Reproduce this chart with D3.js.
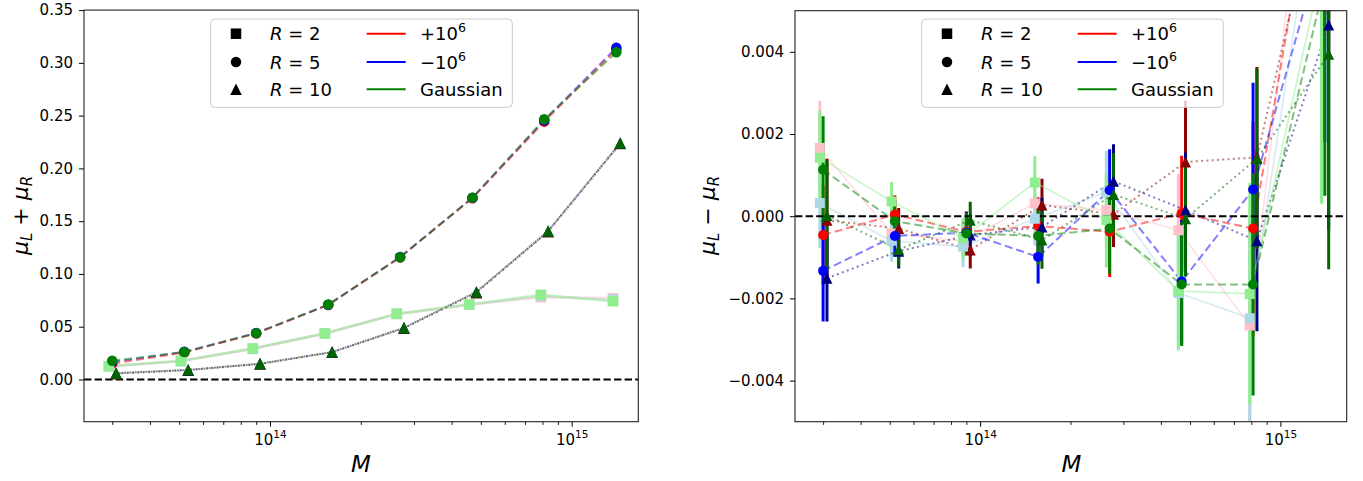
<!DOCTYPE html>
<html><head><meta charset="utf-8">
<script src="https://cdn.jsdelivr.net/npm/d3@7"></script>
<style>body{margin:0;background:#fff} svg text{font-family:"DejaVu Sans",sans-serif}</style>
</head><body><svg id="c" width="1363" height="481"></svg>
<script>
// ---------------- data ----------------
const massBins = [3.0e13, 5.2e13, 9.0e13, 1.56e14, 2.7e14, 4.69e14, 8.11e14, 1.406e15];
const radii = [2, 5, 10];
const modelLabels = ["+10^6", "\u221210^6", "Gaussian"];
const xMajorTicks = [1e14, 1e15];
const yTicksLeft = [0.00, 0.05, 0.10, 0.15, 0.20, 0.25, 0.30, 0.35];
const yTicksRight = [-0.004, -0.002, 0.000, 0.002, 0.004];

// left panel: mu_L + mu_R
const sumR2Plus   = [0.0125, 0.0175, 0.0290, 0.0436, 0.0620, 0.0710, 0.0780, 0.0770];
const sumR2Minus  = [0.0125, 0.0175, 0.0292, 0.0437, 0.0621, 0.0708, 0.0790, 0.0755];
const sumR2Gauss  = [0.0125, 0.0175, 0.0294, 0.0436, 0.0622, 0.0710, 0.0802, 0.0742];
const sumR5Plus   = [0.0150, 0.0255, 0.0436, 0.0705, 0.1157, 0.1718, 0.2443, 0.3127];
const sumR5Minus  = [0.0165, 0.0262, 0.0440, 0.0708, 0.1160, 0.1722, 0.2455, 0.3144];
const sumR5Gauss  = [0.0177, 0.0260, 0.0439, 0.0710, 0.1159, 0.1723, 0.2465, 0.3100];
const sumR10Plus  = [0.0055, 0.0088, 0.0148, 0.0258, 0.0486, 0.0823, 0.1400, 0.2235];
const sumR10Minus = [0.0060, 0.0090, 0.0150, 0.0260, 0.0490, 0.0830, 0.1405, 0.2238];
const sumR10Gauss = [0.0060, 0.0092, 0.0149, 0.0260, 0.0490, 0.0828, 0.1408, 0.2240];

// right panel: mu_L - mu_R and errors
const diffR2Plus   = [0.00166, -0.00042, -0.00060, 0.00031, 0.00015, -0.00034, -0.00266, 0.01240];
const errR2Plus    = [0.00115, 0.00050, 0.00050, 0.00065, 0.00090, 0.00137, 0.00260, 0.00500];
const diffR2Minus  = [0.00032, -0.00060, -0.00074, -0.00006, 0.00059, -0.00187, -0.00248, 0.00890];
const errR2Minus   = [0.00110, 0.00050, 0.00050, 0.00065, 0.00100, 0.00140, 0.00250, 0.00500];
const diffR2Gauss  = [0.00142, 0.00036, -0.00053, 0.00082, -0.00010, -0.00182, -0.00189, 0.00600];
const errR2Gauss   = [0.00115, 0.00047, 0.00050, 0.00064, 0.00115, 0.00140, 0.00270, 0.00570];
const diffR5Plus   = [-0.00046, 0.00004, -0.00038, -0.00024, -0.00038, 0.00007, -0.00030, 0.00990];
const errR5Plus    = [0.00120, 0.00047, 0.00050, 0.00070, 0.00110, 0.00140, 0.00260, 0.00500];
const diffR5Minus  = [-0.00133, -0.00048, -0.00040, -0.00099, 0.00063, -0.00159, 0.00065, 0.00680];
const errR5Minus   = [0.00123, 0.00050, 0.00050, 0.00065, 0.00100, 0.00150, 0.00260, 0.00500];
const diffR5Gauss  = [0.00113, -0.00012, -0.00042, -0.00048, -0.00030, -0.00166, -0.00166, 0.00570];
const errR5Gauss   = [0.00130, 0.00050, 0.00050, 0.00070, 0.00110, 0.00150, 0.00270, 0.00520];
const diffR10Plus  = [-0.00010, -0.00030, -0.00082, 0.00027, 0.00005, 0.00132, 0.00143, 0.00900];
const errR10Plus   = [0.00150, 0.00050, 0.00045, 0.00064, 0.00080, 0.00149, 0.00220, 0.00500];
const diffR10Minus = [-0.00151, -0.00085, -0.00046, -0.00026, 0.00085, 0.00015, -0.00060, 0.00465];
const errR10Minus  = [0.00105, 0.00042, 0.00050, 0.00070, 0.00090, 0.00140, 0.00220, 0.00500];
const diffR10Gauss = [0.00002, -0.00081, -0.00010, -0.00058, 0.00053, -0.00006, 0.00140, 0.00394];
const errR10Gauss  = [0.00134, 0.00042, 0.00045, 0.00070, 0.00100, 0.00140, 0.00220, 0.00523];

// ---------------- styling ----------------
const colors = {
  2:  ["pink", "lightblue", "lightgreen"],
  5:  ["red", "blue", "green"],
  10: ["darkred", "navy", "darkgreen"]
};
const legendLineColors = ["red", "blue", "green"];
const xShift = {2: 0.975, 5: 1.0, 10: 1.03};
const shapes = {2: "square", 5: "circle", 10: "triangle"};

const leftSeries = {
  2: [sumR2Plus, sumR2Minus, sumR2Gauss],
  5: [sumR5Plus, sumR5Minus, sumR5Gauss],
  10: [sumR10Plus, sumR10Minus, sumR10Gauss]
};
const rightSeries = {
  2: [[diffR2Plus, errR2Plus], [diffR2Minus, errR2Minus], [diffR2Gauss, errR2Gauss]],
  5: [[diffR5Plus, errR5Plus], [diffR5Minus, errR5Minus], [diffR5Gauss, errR5Gauss]],
  10: [[diffR10Plus, errR10Plus], [diffR10Minus, errR10Minus], [diffR10Gauss, errR10Gauss]]
};

const svg = d3.select("#c");
const xDomain = [Math.pow(10, 13.3835), Math.pow(10, 15.2208)];

function markerPath(shape, s) {
  if (shape === "square") return d3.symbol(d3.symbolSquare, s * s)();
  if (shape === "circle") return d3.symbol(d3.symbolCircle, Math.PI * (s / 2) * (s / 2))();
  const h = s / 2, w = s / 2;
  return `M0,${-h}L${w},${h}L${-w},${h}Z`;
}
const markerSize = {square: 10.5, circle: 10.5, triangle: 11.5};

function makePanel(box, yDomain, yTicks, yFmt, id) {
  const x = d3.scaleLog().domain(xDomain).range([box.x0, box.x1]);
  const y = d3.scaleLinear().domain(yDomain).range([box.y1, box.y0]);
  svg.append("clipPath").attr("id", id).append("rect")
    .attr("x", box.x0).attr("y", box.y0).attr("width", box.x1 - box.x0).attr("height", box.y1 - box.y0);

  const gy = svg.append("g").attr("transform", `translate(${box.x0},0)`)
    .call(d3.axisLeft(y).tickValues(yTicks).tickFormat(yFmt).tickSize(5).tickPadding(6).tickSizeOuter(0));
  gy.attr("font-size", 15).attr("font-family", "DejaVu Sans");
  gy.select(".domain").remove();
  gy.selectAll(".tick line").attr("stroke", "#000").attr("stroke-width", 1);
  gy.selectAll(".tick text").attr("fill", "#000");

  const minor = x.ticks().filter(v => Math.abs(Math.log10(v) - Math.round(Math.log10(v))) > 1e-6);
  const gm = svg.append("g").attr("transform", `translate(0,${box.y1})`)
    .call(d3.axisBottom(x).tickValues(minor).tickFormat("").tickSize(3.2).tickSizeOuter(0));
  gm.select(".domain").remove();
  gm.selectAll(".tick line").attr("stroke", "#000").attr("stroke-width", 0.9);

  const gx = svg.append("g").attr("transform", `translate(0,${box.y1})`)
    .call(d3.axisBottom(x).tickValues(xMajorTicks).tickFormat("").tickSize(5).tickSizeOuter(0));
  gx.attr("font-family", "DejaVu Sans");
  gx.select(".domain").remove();
  gx.selectAll(".tick line").attr("stroke", "#000").attr("stroke-width", 1);
  gx.selectAll(".tick text").each(function (d) {
    const t = d3.select(this).attr("y", 23.3).attr("dy", null).attr("fill", "#000").attr("font-size", 15).text(null);
    t.append("tspan").text("10");
    t.append("tspan").attr("dy", -6.5).attr("font-size", 10.5).text(Math.round(Math.log10(d)));
  });
  return {x, y};
}

function drawFrame(box) {
  svg.append("rect").attr("x", box.x0).attr("y", box.y0)
    .attr("width", box.x1 - box.x0).attr("height", box.y1 - box.y0)
    .attr("fill", "none").attr("stroke", "#222").attr("stroke-width", 1.1);
}

function zeroLine(g, p, box) {
  g.append("line")
    .attr("x1", box.x0).attr("x2", box.x1).attr("y1", p.y(0)).attr("y2", p.y(0))
    .attr("stroke", "#000").attr("stroke-width", 2).attr("stroke-dasharray", "7.4,3.2");
}

const dash = {2: null, 5: "8,4", 10: "2,3.3"};
const dashOffset = [0, 2.65, 0];
const lineOrder = [1, 0, 2];

// ---------------- left panel ----------------
const boxL = {x0: 84, x1: 638.3, y0: 10.1, y1: 421.7};
const pL = makePanel(boxL, [-0.04, 0.35], yTicksLeft, d3.format(".2f"), "clipL");
const gL = svg.append("g").attr("clip-path", "url(#clipL)");
const gLlines = gL.append("g");
zeroLine(gL, pL, boxL);
const gLmarks = gL.append("g");
lineOrder.forEach(m => {
  radii.forEach(R => {
    const pts = leftSeries[R][m].map((v, i) => ({mx: massBins[i] * xShift[R], v}));
    const line = d3.line().x(d => pL.x(d.mx)).y(d => pL.y(d.v));
    gLlines.append("path").datum(pts).attr("d", line)
      .attr("fill", "none").attr("stroke", colors[R][m]).attr("stroke-opacity", 0.5)
      .attr("stroke-width", R === 2 ? 2.6 : 2).attr("stroke-dasharray", dash[R])
      .attr("stroke-dashoffset", R === 10 ? dashOffset[m] : 0);
  });
});
for (let m = 0; m < 3; m++) {
  radii.forEach(R => {
    const pts = leftSeries[R][m].map((v, i) => ({mx: massBins[i] * xShift[R], v}));
    gLmarks.selectAll(null).data(pts).enter().append("path")
      .attr("d", markerPath(shapes[R], markerSize[shapes[R]]))
      .attr("transform", d => `translate(${pL.x(d.mx)},${pL.y(d.v)})`)
      .attr("fill", colors[R][m]);
  });
}
drawFrame(boxL);

// ---------------- right panel ----------------
const boxR = {x0: 795, x1: 1346.7, y0: 10.7, y1: 421.7};
const fmtR = v => (v < 0 ? "\u2212" : "") + d3.format(".3f")(Math.abs(v));
const pR = makePanel(boxR, [-0.005, 0.005], yTicksRight, fmtR, "clipR");
const gR = svg.append("g").attr("clip-path", "url(#clipR)");
const gRlines = gR.append("g");
const gRzero = gR.append("g");
const gRmarks = gR.append("g");
for (let m = 0; m < 3; m++) {
  radii.forEach(R => {
    const [vals, errs] = rightSeries[R][m];
    const pts = vals.map((v, i) => ({mx: massBins[i] * xShift[R], v, e: errs[i]}));
    const line = d3.line().x(d => pR.x(d.mx)).y(d => pR.y(d.v));
    gRlines.append("path").datum(pts).attr("d", line)
      .attr("fill", "none").attr("stroke", colors[R][m]).attr("stroke-opacity", 0.5)
      .attr("stroke-width", R === 2 ? 1.6 : 2).attr("stroke-dasharray", dash[R]);
    gRlines.selectAll(null).data(pts).enter().append("line")
      .attr("x1", d => pR.x(d.mx)).attr("x2", d => pR.x(d.mx))
      .attr("y1", d => pR.y(d.v - d.e)).attr("y2", d => pR.y(d.v + d.e))
      .attr("stroke", colors[R][m]).attr("stroke-width", 3);
    gRmarks.selectAll(null).data(pts).enter().append("path")
      .attr("d", markerPath(shapes[R], markerSize[shapes[R]] - 0.5))
      .attr("transform", d => `translate(${pR.x(d.mx)},${pR.y(d.v)})`)
      .attr("fill", colors[R][m]);
  });
}
zeroLine(gRzero, pR, boxR);
drawFrame(boxR);

// ---------------- labels ----------------
function yLabel(xPos, op) {
  const t = svg.append("text").attr("transform", `translate(${xPos},215.5) rotate(-90)`)
    .attr("text-anchor", "middle").attr("font-size", 22).attr("fill", "#000");
  t.append("tspan").attr("font-style", "italic").text("\u03bc");
  t.append("tspan").attr("font-style", "italic").attr("font-size", 15).attr("dy", 4).text("L");
  t.append("tspan").attr("dy", -4).text(" " + op + " ");
  t.append("tspan").attr("font-style", "italic").text("\u03bc");
  t.append("tspan").attr("font-style", "italic").attr("font-size", 15).attr("dy", 4).text("R");
}
yLabel(28, "+");
yLabel(715, "\u2212");
svg.append("text").attr("x", 361).attr("y", 471.5).attr("text-anchor", "middle")
  .attr("font-size", 23).attr("font-style", "italic").text("M");
svg.append("text").attr("x", 1071.5).attr("y", 471.5).attr("text-anchor", "middle")
  .attr("font-size", 23).attr("font-style", "italic").text("M");

// ---------------- legends ----------------
function legend(ox) {
  const g = svg.append("g").attr("transform", `translate(${ox},0)`);
  g.append("rect").attr("x", 210.7).attr("y", 19).attr("width", 301.6).attr("height", 88.3)
    .attr("rx", 4).attr("fill", "#fff").attr("fill-opacity", 0.8).attr("stroke", "#ccc").attr("stroke-width", 1);
  const rows = [33.7, 62, 89.3];
  radii.forEach((R, i) => {
    g.append("path").attr("d", markerPath(shapes[R], markerSize[shapes[R]]))
      .attr("transform", `translate(236,${rows[i]})`).attr("fill", "#000");
    const t = g.append("text").attr("x", 270).attr("y", rows[i] + 6.6).attr("font-size", 18).attr("fill", "#000");
    t.append("tspan").attr("font-style", "italic").text("R");
    t.append("tspan").text(" = " + R);
  });
  modelLabels.forEach((lab, i) => {
    g.append("line").attr("x1", 366.7).attr("x2", 405.7).attr("y1", rows[i]).attr("y2", rows[i])
      .attr("stroke", legendLineColors[i]).attr("stroke-width", 2);
    const t = g.append("text").attr("x", 420).attr("y", rows[i] + 6.6).attr("font-size", 18).attr("fill", "#000");
    if (lab.indexOf("^") >= 0) {
      const [base, sup] = lab.split("^");
      t.append("tspan").text(base);
      t.append("tspan").attr("dy", -8).attr("font-size", 12.6).text(sup);
    } else {
      t.text(lab);
    }
  });
}
legend(0);
legend(711);
</script></body></html>
